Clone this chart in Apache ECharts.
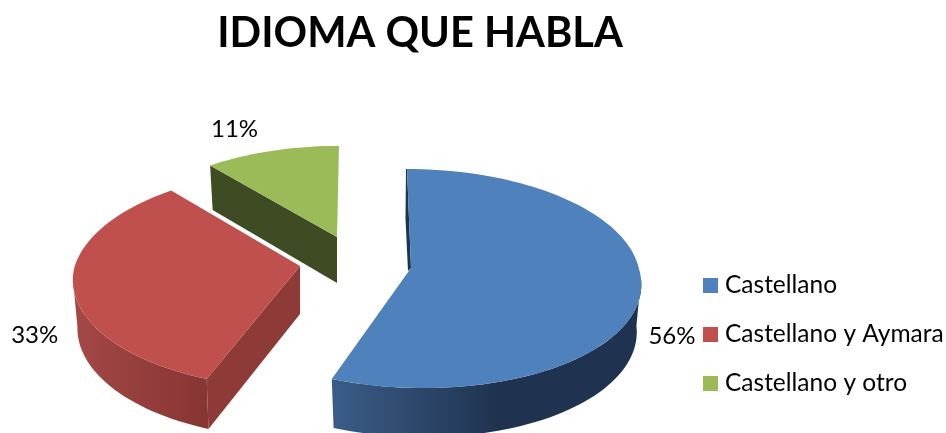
<!DOCTYPE html>
<html>
<head>
<meta charset="utf-8">
<style>
  html, body { margin: 0; padding: 0; background: #fff; }
  #chart { width: 946px; height: 433px; }
</style>
<script src="https://cdn.jsdelivr.net/npm/echarts@6/dist/echarts.min.js"></script>
</head>
<body>
<div id="chart"></div>
<script>
const categories = ['Castellano', 'Castellano y Aymara', 'Castellano y otro']
const percentages = [56, 33, 11]
const total = percentages.reduce((a, b) => a + b, 0)

const colors = ['#4f81bd', '#c0504d', '#9bbb59']
const fontFamily = 'Lato, "Open Sans", sans-serif'

// per slice placement of the exploded 3d pie
const slices = [
  { cx: 411, cy: 268, rx: 228, ry: 108.7, drop: 1, depth: 47, leanTop: -4, leanBottom: 13, pull: 1.19, nudge: [-10, -3],
    wall: ['#3b5d88', '#1f3350', 332, 498], side: null, inner: '#1f3350' },
  { cx: 300, cy: 266, rx: 226, ry: 108.7, drop: 3, depth: 48, leanTop: 8, leanBottom: -3, pull: 1.19, nudge: [4, 1],
    wall: ['#a34846', '#863533', 76, 209], side: '#8e3a37', inner: null },
  { cx: 337, cy: 237, rx: 215, ry: 99, drop: 0, depth: 46, leanTop: 2, leanBottom: 0, pull: 1.18, nudge: [-23, -6],
    wall: null, side: '#3f4b22', inner: null }
]

const perspective = 0.087
const wallScale = 0.98

function project(p, deg, bottom) {
  const a = deg * Math.PI / 180
  const u = Math.sin(a)
  const v = Math.cos(a)
  const s = 1 / (1 + perspective * v)
  const k = bottom ? wallScale : 1
  const lean = v > 0 ? p.leanTop * v : p.leanBottom * -v
  return [
    p.cx + p.rx * u * s * k + lean,
    p.cy + p.drop - p.ry * v * s * k + (bottom ? p.depth * s : 0)
  ]
}

function arc(p, from, to, bottom) {
  const pts = []
  const n = Math.max(2, Math.ceil((to - from) / 2))
  for (let i = 0; i <= n; i++) {
    pts.push(project(p, from + (to - from) * i / n, bottom))
  }
  return pts
}

function renderSlice(index) {
  return function (params, api) {
    const p = slices[index]
    const value = api.value(0)
    let before = 0
    for (let i = 0; i < index; i++) before += percentages[i]
    const start = before / total * 360
    const end = (before + value) / total * 360
    const apex = [p.cx, p.cy]
    const apexLow = [p.cx, p.cy + p.depth]
    const children = []

    // outer rim, only the part facing the viewer
    const from = Math.max(start, 95)
    const to = Math.min(end, 265)
    if (p.wall && to > from) {
      children.push({
        type: 'polygon',
        shape: { points: arc(p, from, to, false).concat(arc(p, from, to, true).reverse()) },
        style: {
          fill: new echarts.graphic.LinearGradient(p.wall[2], 0, p.wall[3], 0, [
            { offset: 0, color: p.wall[0] },
            { offset: 1, color: p.wall[1] }
          ], true)
        }
      })
    }
    // cut face at the start of the slice
    if (p.side) {
      children.push({
        type: 'polygon',
        shape: { points: [project(p, start, false), apex, apexLow, project(p, start, true)] },
        style: { fill: p.side }
      })
    }
    // thin sliver of the cut face next to the top of the blue slice
    if (p.inner) {
      const top = project(p, start, false)
      children.push({
        type: 'polygon',
        shape: { points: [top, apex, [apex[0] - 3, apex[1] + 3], [top[0] - 1.5, (top[1] + apex[1]) / 2], [top[0] - 1, top[1]]] },
        style: { fill: p.inner }
      })
    }
    // top face
    children.push({
      type: 'polygon',
      shape: { points: [apex].concat(arc(p, start, end, false)) },
      style: { fill: colors[index] }
    })
    // percent label
    const mid = (start + end) / 2
    const a = mid * Math.PI / 180
    const s = 1 / (1 + perspective * Math.cos(a))
    const cosDown = Math.cos(a) < 0
    children.push({
      type: 'text',
      style: {
        x: p.cx + p.rx * Math.sin(a) * s * p.pull + p.nudge[0],
        y: p.cy - p.ry * Math.cos(a) * s * p.pull + (cosDown ? p.depth : 0) + p.nudge[1],
        text: Math.round(value / total * 100) + '%',
        fill: '#000',
        font: '24px ' + fontFamily,
        textAlign: 'center',
        textVerticalAlign: 'middle'
      }
    })
    return { type: 'group', children }
  }
}

const chart = echarts.init(document.getElementById('chart'))

chart.setOption({
  animation: false,
  backgroundColor: '#fff',
  title: {
    text: 'IDIOMA QUE HABLA',
    left: 415,
    top: 8,
    textAlign: 'center',
    textStyle: { fontFamily, fontWeight: 'bold', fontSize: 41.6, color: '#000' }
  },
  legend: {
    orient: 'vertical',
    left: 698,
    top: 268,
    icon: 'rect',
    itemWidth: 15,
    itemHeight: 15,
    itemGap: 24,
    selectedMode: false,
    data: categories,
    textStyle: { fontFamily, fontSize: 24.5, color: '#000', padding: [0, 0, 0, 2] }
  },
  series: categories.map((name, i) => ({
    name,
    type: 'custom',
    coordinateSystem: 'none',
    silent: true,
    itemStyle: { color: colors[i] },
    renderItem: renderSlice(i),
    data: [[percentages[i]]]
  }))
})
</script>
</body>
</html>
